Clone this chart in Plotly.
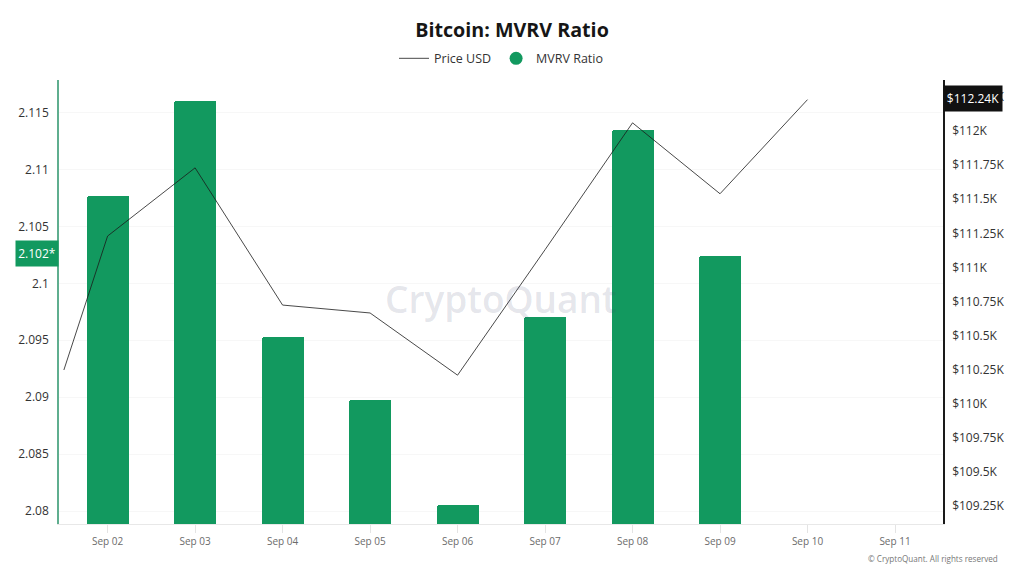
import plotly.graph_objects as go

TITLE = "Bitcoin: MVRV Ratio"
bar_dates = ["2025-09-02", "2025-09-03", "2025-09-04", "2025-09-05", "2025-09-06", "2025-09-07", "2025-09-08", "2025-09-09"]
mvrv = [2.10765, 2.1160, 2.0953, 2.08975, 2.0805, 2.0970, 2.1135, 2.1024]
price_dates = ["2025-09-01 12:00", "2025-09-02", "2025-09-03", "2025-09-04", "2025-09-05", "2025-09-06", "2025-09-07", "2025-09-08", "2025-09-09", "2025-09-10"]
price = [110248, 111230, 111730, 110724, 110666, 110210, 111130, 112060, 111540, 112230]
x_ticks = ["2025-09-02", "2025-09-03", "2025-09-04", "2025-09-05", "2025-09-06", "2025-09-07", "2025-09-08", "2025-09-09", "2025-09-10", "2025-09-11"]
x_labels = ["Sep 02", "Sep 03", "Sep 04", "Sep 05", "Sep 06", "Sep 07", "Sep 08", "Sep 09", "Sep 10", "Sep 11"]
y_ticks = [2.08, 2.085, 2.09, 2.095, 2.10, 2.105, 2.11, 2.115]
y_labels = ["2.08", "2.085", "2.09", "2.095", "2.1", "2.105", "2.11", "2.115"]
y2_ticks = [109250, 109500, 109750, 110000, 110250, 110500, 110750, 111000, 111250, 111500, 111750, 112000, 112250]
y2_labels = ["$109.25K", "$109.5K", "$109.75K", "$110K", "$110.25K", "$110.5K", "$110.75K", "$111K", "$111.25K", "$111.5K", "$111.75K", "$112K", "$112.25K"]

GREEN = "#12995f"
FONT = "Open Sans"

fig = go.Figure()
fig.add_trace(go.Bar(x=bar_dates, y=mvrv, marker=dict(color=GREEN, line_width=0, cornerradius=2),
                     width=0.48 * 86400000, showlegend=False, name="MVRV Ratio", yaxis="y"))
fig.add_trace(go.Scatter(x=price_dates, y=price, mode="lines", name="Price USD",
                         line=dict(color="#1a1a1a", width=0.8), yaxis="y2"))
fig.add_trace(go.Scatter(x=[None], y=[None], mode="markers", name="MVRV Ratio",
                         marker=dict(color=GREEN, size=13, symbol="circle"), yaxis="y"))

fig.update_layout(
    width=1024, height=576, autosize=False,
    margin=dict(l=59, r=81, t=80, b=52),
    paper_bgcolor="white", plot_bgcolor="white",
    font=dict(family=FONT, color="#333333"),
    title=dict(text=f"<b>{TITLE}</b>", x=0.5, xanchor="center", y=0.947, yanchor="middle",
               font=dict(size=19.7, color="#161616", family=FONT)),
    legend=dict(orientation="h", x=0.5, xanchor="center", y=1.048, yanchor="middle",
                font=dict(size=12.5, color="#333333"), itemwidth=30, traceorder="normal"),
    bargap=0,
    xaxis=dict(type="date", range=["2025-09-01 10:40", "2025-09-11 13:10"],
               tickmode="array", tickvals=x_ticks, ticktext=x_labels,
               showgrid=False, zeroline=False, showline=True, linecolor="#e8e8e8", linewidth=1,
               ticks="outside", ticklen=8, tickcolor="#e4e4e4", tickfont=dict(size=10, color="#6b6b6b")),
    yaxis=dict(range=[2.07886, 2.11786], tickmode="array", tickvals=y_ticks, ticktext=y_labels,
               showgrid=True, gridcolor="#f7f7f7", gridwidth=1, zeroline=False,
               showline=True, linecolor="#5fae8f", linewidth=1.5, ticks="",
               ticklabelstandoff=6, tickfont=dict(size=12, color="#333333")),
    yaxis2=dict(range=[109119, 112374], overlaying="y", side="right", tickmode="array",
                tickvals=y2_ticks, ticktext=y2_labels, showgrid=False, zeroline=False,
                showline=True, linecolor="#1a1a1a", linewidth=1.5, ticks="",
                ticklabelstandoff=5, tickfont=dict(size=12, color="#333333")),
    annotations=[
        dict(text="CryptoQuant", xref="paper", yref="paper", x=0.5, y=0.508, xanchor="center", yanchor="middle",
             showarrow=False, font=dict(size=37, color="rgba(60,65,110,0.14)", family=FONT, weight=600)),
        dict(text="2.102*", xref="paper", yref="y", x=0, y=2.1026, xanchor="right", yanchor="middle",
             showarrow=False, bgcolor=GREEN, borderpad=0, width=42, height=25, xshift=0,
             font=dict(size=12, color="white")),
        dict(text="$112.24K", xref="paper", yref="y2", x=1, y=112240, xanchor="left", yanchor="middle",
             showarrow=False, bgcolor="#111111", borderpad=0, width=58, height=25,
             font=dict(size=12, color="white")),
        dict(text="© CryptoQuant. All rights reserved", xref="paper", yref="paper", x=1.0645, y=-0.0785,
             xanchor="right", yanchor="middle", showarrow=False, font=dict(size=8.1, color="#777777")),
    ],
)
fig.write_html("out.html", post_script="document.body.style.margin='0';", config={"displayModeBar": False})
